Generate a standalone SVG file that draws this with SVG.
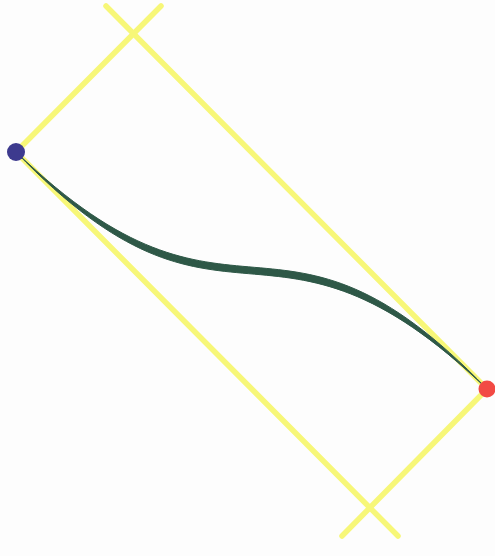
<svg xmlns="http://www.w3.org/2000/svg" width="495" height="556" viewBox="0 0 495 556">
  <style>
    .guide { stroke: #f7f778; stroke-width: 5.5; stroke-linecap: round; fill: none; }
    .curve { fill: #2e5847; stroke: #2e5847; stroke-width: 1; stroke-linejoin: round; }
  </style>
  <rect width="495" height="556" fill="#fdfdfd"/>
  <g id="connectors">
    <line class="guide" x1="16" y1="152" x2="161" y2="6"/>
    <line class="guide" x1="106" y1="6" x2="487" y2="389"/>
    <line class="guide" x1="487" y1="389" x2="342" y2="536"/>
    <line class="guide" x1="16" y1="152" x2="398" y2="536"/>
    <path class="curve" d="M16,152 C235.2,362.8 276.2,169.8 487,389 C267.8,178.2 226.8,371.2 16,152 Z"/>
  </g>
  <g id="start">
    <circle cx="16" cy="152" r="9" fill="#3d3a8e"/>
  </g>
  <g id="end">
    <circle cx="487" cy="389" r="8.5" fill="#f24a44"/>
  </g>
</svg>
